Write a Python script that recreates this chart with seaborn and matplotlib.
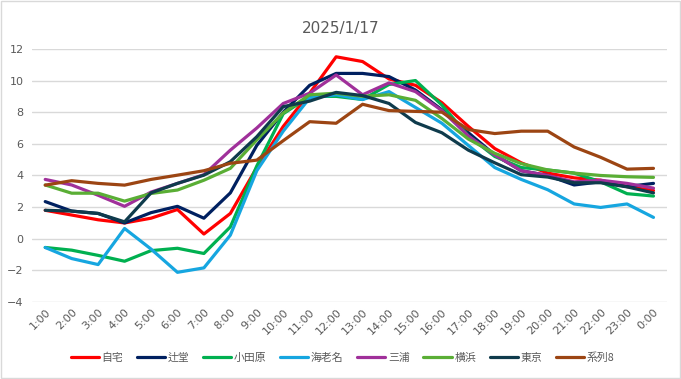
import pandas as pd
import numpy as np
import matplotlib
matplotlib.use("Agg")
import matplotlib.pyplot as plt
import seaborn as sns
from matplotlib.patches import Rectangle

# hourly values
hours = ["1:00", "2:00", "3:00", "4:00", "5:00", "6:00", "7:00", "8:00", "9:00", "10:00",
         "11:00", "12:00", "13:00", "14:00", "15:00", "16:00", "17:00", "18:00", "19:00",
         "20:00", "21:00", "22:00", "23:00", "0:00"]

jitaku = [1.8, 1.5, 1.2, 1.0, 1.3, 1.85, 0.3, 1.6, 4.5, 7.1, 9.2, 11.5, 11.2, 10.1, 9.7, 8.6,
          7.1, 5.7, 4.8, 4.15, 3.85, 3.7, 3.3, 3.05]
tsujido = [2.35, 1.75, 1.6, 1.0, 1.65, 2.05, 1.3, 2.9, 5.9, 8.0, 9.7, 10.45, 10.45, 10.25, 9.4,
           8.15, 6.7, 5.3, 4.3, 4.0, 3.4, 3.6, 3.3, 3.5]
odawara = [-0.55, -0.72, -1.05, -1.42, -0.75, -0.6, -0.93, 0.75, 4.6, 7.9, 9.0, 9.0, 8.8, 9.75,
           10.0, 8.45, 6.5, 5.2, 4.5, 4.35, 4.15, 3.6, 2.85, 2.7]
ebina = [-0.55, -1.25, -1.63, 0.65, -0.65, -2.12, -1.84, 0.23, 4.3, 6.8, 8.9, 9.1, 8.8, 9.3,
         8.3, 7.3, 5.9, 4.5, 3.75, 3.1, 2.2, 1.98, 2.2, 1.35]
miura = [3.75, 3.4, 2.75, 2.05, 2.95, 3.5, 4.05, 5.6, 7.0, 8.55, 9.2, 10.35, 9.1, 9.85, 9.3,
         8.1, 6.5, 5.3, 4.3, 4.0, 3.6, 3.7, 3.5, 3.2]
yokohama = [3.4, 2.88, 2.88, 2.38, 2.86, 3.08, 3.7, 4.45, 6.25, 7.95, 9.1, 9.2, 9.0, 9.1, 8.75,
            7.6, 6.3, 5.4, 4.75, 4.35, 4.15, 4.0, 3.92, 3.88]
tokyo = [1.8, 1.75, 1.6, 1.07, 2.9, 3.5, 4.02, 4.87, 6.45, 8.35, 8.7, 9.25, 9.05, 8.55, 7.35,
         6.7, 5.6, 4.8, 4.05, 3.9, 3.54, 3.54, 3.28, 2.9]
series8 = [3.39, 3.67, 3.5, 3.39, 3.75, 4.02, 4.3, 4.77, 4.97, 6.2, 7.4, 7.3, 8.5, 8.1, 8.05,
           8.0, 6.9, 6.65, 6.8, 6.8, 5.8, 5.15, 4.4, 4.45]

names = ["自宅", "辻堂", "小田原", "海老名", "三浦", "横浜", "東京", "系列8"]
colors = ["#FF0000", "#002060", "#00B050", "#16A6E0", "#A0309A", "#5AAE35", "#0F3B4C", "#9C4513"]

frames = []
for name, vals in zip(names, [jitaku, tsujido, odawara, ebina, miura, yokohama, tokyo, series8]):
    frames.append(pd.DataFrame({"hour": hours, "temp": vals, "site": name}))
df = pd.concat(frames, ignore_index=True)

sns.set_style("white")
plt.rcParams["font.family"] = ["DejaVu Sans", "Noto Sans CJK JP"]

fig = plt.figure(figsize=(6.81, 3.79), dpi=100)
ax = fig.add_axes([0.047, 0.203, 0.932, 0.668])

sns.lineplot(data=df, x="hour", y="temp", hue="site", hue_order=names,
             palette=dict(zip(names, colors)), linewidth=2.3, sort=False, ax=ax)

ax.set_xlim(-0.5, len(hours) - 0.5)
ax.set_ylim(-4, 12)
ax.set_yticks(np.arange(-4, 13, 2))
ax.yaxis.grid(True, color="#D9D9D9", linewidth=1)
ax.set_axisbelow(True)
for s in ax.spines.values():
    s.set_visible(False)
ax.set_xlabel("")
ax.set_ylabel("")
ax.tick_params(axis="both", length=0, colors="#595959", labelsize=8)
ax.tick_params(axis="y", pad=6)
plt.setp(ax.get_xticklabels(), rotation=45, ha="right", rotation_mode="anchor")

fig.suptitle("2025/1/17", y=0.945, fontsize=11, color="#595959")

handles, labels = ax.get_legend_handles_labels()
ax.get_legend().remove()
leg = fig.legend(handles, labels, loc="center", bbox_to_anchor=(0.503, 1 - 358 / 379), ncol=8,
                 frameon=False, handlelength=2.6, columnspacing=1.25, handletextpad=0.25,
                 fontsize=7.8)
for t in leg.get_texts():
    t.set_color("#595959")
    t.set_fontfamily(["Noto Sans CJK JP", "DejaVu Sans"])

fig.patches.append(Rectangle((0.001, 0.002), 0.997, 0.996, transform=fig.transFigure,
                             fill=False, edgecolor="#D9D9D9", linewidth=1))

fig.savefig("out.png", dpi=100)
